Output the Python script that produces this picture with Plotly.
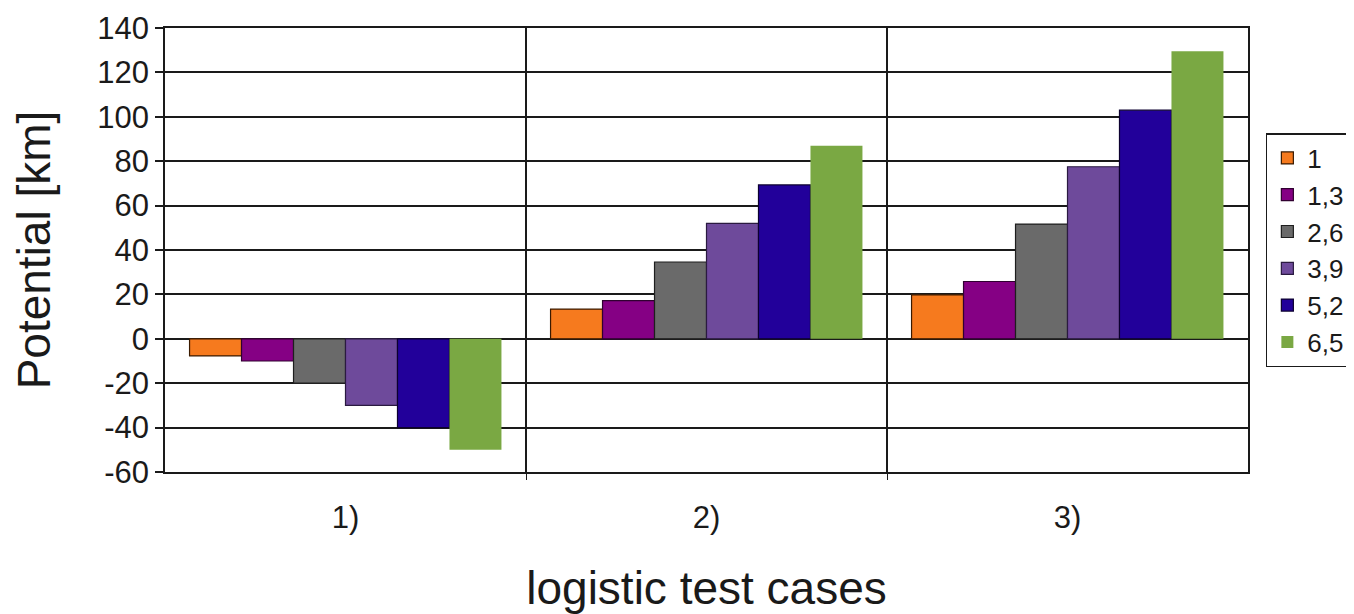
import plotly.graph_objects as go

categories = ["1)", "2)", "3)"]
series_names = ["1", "1,3", "2,6", "3,9", "5,2", "6,5"]
values_1 = [-7.7, 13.4, 19.8]
values_13 = [-10, 17.2, 25.8]
values_26 = [-20, 34.6, 51.7]
values_39 = [-30, 52, 77.5]
values_52 = [-40, 69.3, 103]
values_65 = [-50, 87, 129.5]
y_tick_values = [-60, -40, -20, 0, 20, 40, 60, 80, 100, 120, 140]
y_tick_labels = ["-60", "-40", "-20", "0", "20", "40", "60", "80", "100", "120", "140"]
colors = ["#F67A1E", "#850084", "#6A6A6A", "#6E4A9B", "#22009A", "#7AA843"]
outline = ["#3a1a00", "#300030", "#1e1e1e", "#2a1a40", "#0c0030", None]

all_values = [values_1, values_13, values_26, values_39, values_52, values_65]
x_pos = [1, 2, 3]

fig = go.Figure()
for name, vals, col, oc in zip(series_names, all_values, colors, outline):
    fig.add_trace(go.Bar(
        x=x_pos, y=vals, name=name,
        marker=dict(color=col,
                    line=dict(color=oc if oc else col, width=1.2 if oc else 0)),
    ))

font_family = "Liberation Sans, Arial, sans-serif"
fig.update_layout(
    barmode="group",
    bargap=0.136,
    bargroupgap=0,
    width=1346, height=606,
    margin=dict(l=157, r=106, t=20, b=142, autoexpand=False),
    paper_bgcolor="white",
    plot_bgcolor="white",
    font=dict(family=font_family, color="#1a1a1a", size=30),
    showlegend=True,
    legend=dict(
        x=1.0165, xanchor="left", y=0.5, yanchor="middle",
        bordercolor="#1a1a1a", borderwidth=1.5, bgcolor="white",
        font=dict(size=26, family=font_family, color="#1a1a1a"),
        itemwidth=30,
    ),
    xaxis=dict(
        range=[0.5, 3.5],
        tickmode="array", tickvals=x_pos, ticktext=categories,
        showgrid=False, zeroline=False,
        showline=True, linecolor="#1a1a1a", linewidth=1.5, mirror=True,
        ticks="", tickfont=dict(size=31), ticklabelstandoff=17,
        minor=dict(tickmode="array", tickvals=[1.5, 2.5], showgrid=True,
                   gridcolor="#1a1a1a", gridwidth=1.5, ticks="outside",
                   ticklen=6, tickcolor="#1a1a1a"),
        title=dict(text="logistic test cases", font=dict(size=46), standoff=42),
    ),
    yaxis=dict(
        range=[-60, 140],
        tickmode="array", tickvals=y_tick_values, ticktext=y_tick_labels,
        showgrid=True, gridcolor="#1a1a1a", gridwidth=1.5,
        zeroline=False,
        showline=True, linecolor="#1a1a1a", linewidth=1.5, mirror=True,
        ticks="outside", ticklen=8, tickcolor="#1a1a1a", tickwidth=1.5,
        tickfont=dict(size=31),
        title=dict(text="Potential [km]", font=dict(size=46), standoff=32),
    ),
)

fig.write_html("out.html")
